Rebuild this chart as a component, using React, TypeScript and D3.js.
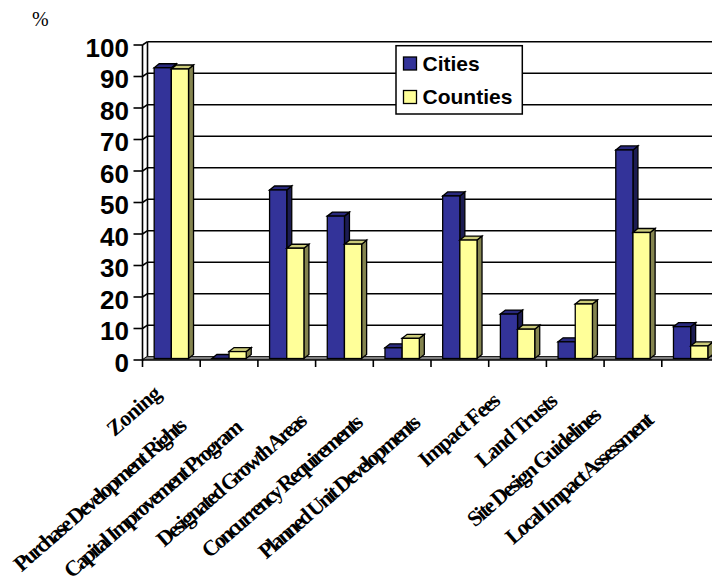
import React, { useMemo } from "react";
import * as d3 from "d3";

const categories = [
  "Zoning",
  "Purchase Development Rights",
  "Capital Improvement Program",
  "Designated Growth Areas",
  "Concurrency Requirements",
  "Planned Unit Developments",
  "Impact Fees",
  "Land Trusts",
  "Site Design Guidelines",
  "Local Impact Assessment",
];
const seriesNames = ["Cities", "Counties"];
const citiesValues = [92.3, 0, 53.5, 45.2, 3.4, 51.6, 14.1, 5.3, 66.2, 10.1];
const countiesValues = [91.9, 2.2, 35, 36.3, 6.4, 37.6, 9.3, 17.3, 40, 4];
const yTicks = [0, 10, 20, 30, 40, 50, 60, 70, 80, 90, 100];
const unitLabel = "%";

const W = 712;
const H = 584;
const X0 = 142.5;
const STEP = 57.7;
const WALL_DX = 5;
const WALL_DY = -3.3;
const BAR_DX = 5;
const BAR_DY = -4;
const BAR_LIFT = 1.5;
const LABEL_SIZE = 22;
const LABEL_ANGLE = 41;

const faceColors = [
  { front: "#333399", top: "#29297d", side: "#1c1c52" },
  { front: "#FFFF99", top: "#cccc7a", side: "#84844f" },
];

let measureCtx: CanvasRenderingContext2D | null = null;
function measure(text: string, font: string): number {
  if (!measureCtx) {
    const c = document.createElement("canvas");
    measureCtx = c.getContext("2d");
  }
  if (!measureCtx) return text.length * 10;
  measureCtx.font = font;
  return measureCtx.measureText(text).width;
}

export default function App() {
  const x = useMemo(
    () => d3.scaleBand<string>().domain(categories).range([X0, X0 + STEP * categories.length]).padding(0),
    []
  );
  const x1 = useMemo(
    () => d3.scaleBand<string>().domain(seriesNames).range([0, x.bandwidth()]).paddingInner(0).paddingOuter(0.68),
    [x]
  );
  const y = useMemo(() => d3.scaleLinear().domain([0, 100]).range([360, 45]), []);

  const rightEdge = X0 + STEP * categories.length + 10;
  const base = y(0) - BAR_LIFT;

  const bars: JSX.Element[] = [];
  categories.forEach((cat, i) => {
    [citiesValues[i], countiesValues[i]].forEach((v, s) => {
      const bx = (x(cat) as number) + (x1(seriesNames[s]) as number);
      const bw = x1.bandwidth();
      const top = y(v) - BAR_LIFT;
      const c = faceColors[s];
      const topPts = [
        [bx, top],
        [bx + BAR_DX, top + BAR_DY],
        [bx + bw + BAR_DX, top + BAR_DY],
        [bx + bw, top],
      ];
      const sidePts = [
        [bx + bw, top],
        [bx + bw + BAR_DX, top + BAR_DY],
        [bx + bw + BAR_DX, base + BAR_DY],
        [bx + bw, base],
      ];
      bars.push(
        <g key={`${i}-${s}`} stroke="#000" strokeWidth={1.3} strokeLinejoin="miter">
          <polygon points={sidePts.map((p) => p.join(",")).join(" ")} fill={c.side} />
          <polygon points={topPts.map((p) => p.join(",")).join(" ")} fill={c.top} />
          <rect x={bx} y={top} width={bw} height={Math.max(0, base - top)} fill={c.front} />
        </g>
      );
    });
  });

  const labelFont = `bold ${LABEL_SIZE}px 'Liberation Serif'`;
  const rad = (LABEL_ANGLE * Math.PI) / 180;
  const cosA = Math.cos(rad);
  const sinA = Math.sin(rad);
  const glyphH = 11;
  const labels = categories.map((cat) => {
    const center = (x(cat) as number) + x.bandwidth() / 2;
    const n = measure(cat, labelFont);
    const em = n / LABEL_SIZE;
    const wx = 12 * em + 10.3;
    const e = -3 - 0.275 * wx;
    const trX = center + e;
    const trY = 371 - e;
    const beX = trX + glyphH * sinA;
    const beY = trY + glyphH * cosA;
    const len = Math.min(0.72 * n + 18, 0.95 * n);
    const ls = (len - n) / Math.max(1, cat.length - 1);
    const sx = beX - len * cosA;
    const sy = beY + len * sinA;
    return (
      <text
        key={cat}
        transform={`translate(${sx},${sy}) rotate(${-LABEL_ANGLE})`}
        fontFamily="'Liberation Serif', 'Times New Roman', serif"
        fontWeight="bold"
        fontSize={LABEL_SIZE}
        letterSpacing={ls}
        fill="#000"
      >
        {cat}
      </text>
    );
  });

  return (
    <svg
      width={W}
      height={H}
      style={{ position: "absolute", left: 0, top: 0, background: "#fff" }}
      xmlns="http://www.w3.org/2000/svg"
    >
      <rect x={0} y={0} width={W} height={H} fill="#fff" />
      <text x={32} y={26} fontFamily="'Liberation Serif', 'Times New Roman', serif" fontSize={20} fill="#000">
        {unitLabel}
      </text>

      {/* back wall gridlines */}
      <g stroke="#000" strokeWidth={1.6}>
        {yTicks.map((t) => (
          <line key={`g${t}`} x1={X0 + WALL_DX} x2={rightEdge} y1={y(t) + WALL_DY} y2={y(t) + WALL_DY} />
        ))}
        <line x1={X0 + WALL_DX} x2={X0 + WALL_DX} y1={y(100) + WALL_DY} y2={y(0) + WALL_DY} />
        {yTicks.map((t) => (
          <line key={`d${t}`} x1={X0} x2={X0 + WALL_DX} y1={y(t)} y2={y(t) + WALL_DY} />
        ))}
      </g>

      {/* floor */}
      <polygon
        points={[
          [X0, y(0)],
          [X0 + WALL_DX, y(0) + WALL_DY],
          [rightEdge + WALL_DX, y(0) + WALL_DY],
          [rightEdge, y(0)],
        ]
          .map((p) => p.join(","))
          .join(" ")}
        fill="#808080"
      />

      {/* front axes */}
      <g stroke="#000" strokeWidth={1.6}>
        <line x1={X0} x2={X0} y1={y(100)} y2={y(0)} />
        <line x1={X0} x2={rightEdge} y1={y(0)} y2={y(0)} />
        {yTicks.map((t) => (
          <line key={`t${t}`} x1={X0 - 9} x2={X0} y1={y(t)} y2={y(t)} />
        ))}
        {d3.range(categories.length + 1).map((i) => (
          <line key={`xt${i}`} x1={X0 + i * STEP} x2={X0 + i * STEP} y1={y(0)} y2={y(0) + 7} />
        ))}
      </g>

      {bars}

      {/* y tick labels */}
      <g fontFamily="'Liberation Sans', Arial, sans-serif" fontWeight="bold" fontSize={26} fill="#000" textAnchor="end">
        {yTicks.map((t) => (
          <text key={`yl${t}`} x={129} y={y(t) + 11.5}>
            {t}
          </text>
        ))}
      </g>

      {/* legend */}
      <g>
        <rect x={396} y={45.7} width={126.3} height={68.3} fill="#fff" stroke="#000" strokeWidth={1.5} />
        {seriesNames.map((s, i) => (
          <g key={s}>
            <rect x={403.5} y={57 + i * 33.5} width={13} height={13} fill={faceColors[i].front} stroke="#000" strokeWidth={1.3} />
            <text
              x={422.5}
              y={70.5 + i * 33.5}
              fontFamily="'Liberation Sans', Arial, sans-serif"
              fontWeight="bold"
              fontSize={21}
              fill="#000"
            >
              {s}
            </text>
          </g>
        ))}
      </g>

      {labels}
    </svg>
  );
}
